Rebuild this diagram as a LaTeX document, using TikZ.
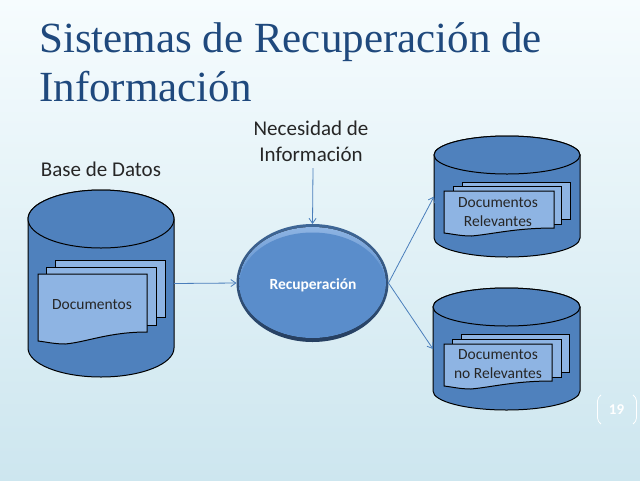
\documentclass[tikz,border=0pt]{standalone}
\usepackage{fontspec}
\setmainfont{Carlito}
\newfontfamily\titlefont{Liberation Serif}
\usetikzlibrary{arrows.meta,positioning,shapes.geometric}

\definecolor{titleblue}{HTML}{1F497D}
\definecolor{dbblue}{HTML}{4F81BD}
\definecolor{docblue}{HTML}{8EB4E3}
\definecolor{linkblue}{HTML}{4A7EBB}
\definecolor{facablue}{HTML}{5A8DCB}
\definecolor{rimdark}{HTML}{263F60}
\definecolor{bgtop}{HTML}{F6FCFE}
\definecolor{bgbottom}{HTML}{CDE6EF}

\tikzset{
  db/.style={draw=black,fill=dbblue,line width=1pt},
  docpage/.style={draw=black,fill=docblue,line width=1pt},
  link/.style={draw=linkblue,line width=0.8pt,-{Straight Barb[length=5pt,width=7pt]}},
  caption/.style={font=\fontsize{21pt}{26pt}\selectfont,text=black!85,align=center,inner sep=0pt},
  doctext/.style={font=\fontsize{15.5pt}{19pt}\selectfont,text=black!85,align=center,inner sep=0pt},
  slidetitle/.style={anchor=base west,inner sep=0pt,text=titleblue,font=\titlefont\fontsize{43pt}{49pt}\selectfont},
}

% name, center x, half width, top, bottom, half height of the lid
\newcommand{\dbcan}[6]{
  \path[db] (#2-#3,#4+#6) -- (#2-#3,#5-#6) arc[start angle=180,end angle=360,x radius=#3,y radius=-#6]
    -- (#2+#3,#4+#6) arc[start angle=0,end angle=180,x radius=#3,y radius=#6*-1] -- cycle;
  \path[db] (#2,#4+#6) ellipse[x radius=#3,y radius=#6];
  \node[minimum width=2*#3 pt,minimum height=#5 pt-#4 pt,inner sep=0pt,outer sep=0pt] (#1) at (#2,{(#4+#5)/2}) {};
}
% left, right, top, right end of the bottom, depth of the wave
\newcommand{\docfront}[5]{
  \path[docpage] (#1,#3) -- (#2,#3) -- (#2,#4)
    .. controls ({#2-(#2-#1)*0.35},#4) and ({#1+(#2-#1)*0.45},#4+#5) .. ({#1+(#2-#1)*0.25},#4+#5+2)
    .. controls ({#1+(#2-#1)*0.15},#4+#5+2) and ({#1+(#2-#1)*0.08},#4+#5) .. (#1,#4+#5-1) -- cycle;
}

\begin{document}
\begin{tikzpicture}[x=1pt,y=-1pt]
  \useasboundingbox (0,0) rectangle (640,480);

  % background
  \shade[top color=bgtop,bottom color=bgbottom] (0,0) rectangle (640,480);

  % title
  \node[slidetitle] (titleA) at (39,52) {Sistemas de Recuperación de};
  \node[slidetitle] (titleB) at (39,101) {Información};

  % the three cans
  \dbcan{baseDatos}{101}{73}{190}{377}{29}
  \dbcan{relevantes}{507}{73}{136}{257}{19}
  \dbcan{noRelevantes}{506.5}{73.5}{288}{410}{19}

  % pages of the left can
  \draw[docpage] (55,260) rectangle (165,317);
  \draw[docpage] (46,267) rectangle (156,325);
  \docfront{38}{147}{274}{332}{10}
  \node[doctext] (docs) at (92,305) {Documentos};

  % pages of the upper can
  \draw[docpage] (462,182) rectangle (570,219);
  \draw[docpage] (453,186) rectangle (561,224);
  \docfront{444}{554}{191}{228}{6}
  \node[doctext] (docsRel) at (498,212) {Documentos\\Relevantes};

  % pages of the lower can
  \draw[docpage] (461,334) rectangle (569,372);
  \draw[docpage] (452,339) rectangle (561,377);
  \docfront{444}{552}{344}{381}{6}
  \node[doctext] (docsNoRel) at (498,364.5) {Documentos\\no Relevantes};

  % ellipse, rim first and then the face
  \node[ellipse,minimum width=152pt,minimum height=118pt,inner sep=0pt,outer sep=0pt,
    top color=dbblue!80!black,bottom color=rimdark] (recup) at (312.5,283) {};
  \fill[top color=docblue,bottom color=facablue,middle color=facablue] (312.5,282.5) ellipse[x radius=73.5,y radius=55.5];
  \fill[facablue] (312.5,285) ellipse[x radius=73,y radius=52.5];
  \node[inner sep=0pt,text=white,font=\bfseries\fontsize{15.5pt}{18pt}\selectfont] at (313,285) {Recuperación};

  % captions
  \node[caption] (baseCap) at (101,169.5) {Base de Datos};
  \node[caption] (necCap) at (311,141) {Necesidad de\\ Información};

  % links
  \coordinate (necEnd) at (313,168);
  \draw[link] (baseDatos.east) -- (recup.west);
  \draw[link] (necEnd) -- (recup.north);
  \draw[link] (recup.east) -- (relevantes.west);
  \draw[link] (recup.east) -- (noRelevantes.west);

  % page number
  \draw[white,line width=0.8pt,rounded corners=4pt] (601,395) -- (597.5,397) -- (597.5,422) -- (601,424);
  \draw[white,line width=0.8pt,rounded corners=4pt] (633,395) -- (636.5,397) -- (636.5,422) -- (633,424);
  \node[text=white,inner sep=0pt,font=\bfseries\fontsize{15pt}{18pt}\selectfont] (pageNum) at (616.5,410) {19};
\end{tikzpicture}
\end{document}
